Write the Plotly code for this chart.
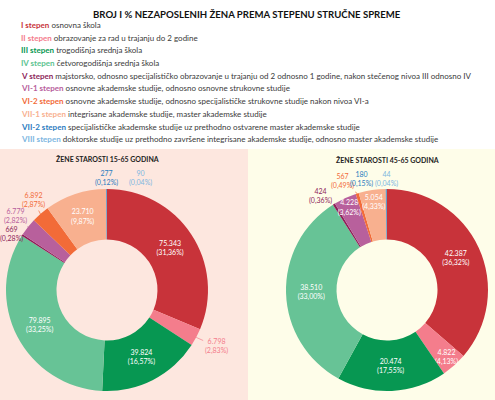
import math
import plotly.graph_objects as go

# Podaci
stepeni = ["I", "II", "III", "IV", "V", "VI-1", "VI-2", "VII-1", "VII-2", "VIII"]
opisi = [
    "osnovna škola",
    "obrazovanje za rad u trajanju do 2 godine",
    "trogodišnja srednja škola",
    "četvorogodišnja srednja škola",
    "majstorsko, odnosno specijalističko obrazovanje u trajanju od 2 odnosno 1 godine, nakon stečenog nivoa III odnosno IV",
    "osnovne akademske studije, odnosno osnovne strukovne studije",
    "osnovne akademske studije, odnosno specijalističke strukovne studije nakon nivoa VI-a",
    "integrisane akademske studije, master akademske studije",
    "specijalističke akademske studije uz prethodno ostvarene master akademske studije",
    "doktorske studije uz prethodno završene integrisane akademske studije, odnosno master akademske studije",
]
zene_15_65 = [75343, 6798, 39824, 79895, 669, 6779, 6892, 23710, 277, 90]
zene_45_65 = [42387, 4822, 20474, 38510, 424, 4228, 567, 5054, 180, 44]

boje = ["#c8333a", "#f47d8c", "#079752", "#67c396", "#8e1f5a",
        "#b8609c", "#f26b38", "#f8b08f", "#2b7cc0", "#7db6df"]
boje_legende = ["#c8333a", "#f47d8c", "#079752", "#5cc38f", "#8e1f5a",
                "#b8609c", "#f26b38", "#f8b08f", "#2b7cc0", "#7db6df"]

# spoljne oznake: indeks stepena -> pomak teksta (px) od ivice kruga, da li ima liniju
spolja_15_65 = {1: (20, 9, True), 4: (-11, -1, True), 5: (-12, -11, True),
                6: (-7, -14, True), 8: (-13, -11, False), 9: (20, -11, False)}
spolja_45_65 = {4: (-13, -8, True), 6: (-15, -12, True),
                8: (-11, -10, False), 9: (13, -10, False)}

FONT = "Lato"
W, H = 495, 400
R = 101          # poluprecnik kruga u px
CY = 290         # centar po y (px od vrha)
VEL_OZNAKA = 7


def fmt_broj(v):
    return f"{v:,}".replace(",", ".")


def fmt_proc(v, ukupno):
    return f"{100 * v / ukupno:.2f}".replace(".", ",") + "%"


def krug(vrednosti, spolja, cx):
    pozicije = ["none" if i in spolja else "inside" for i in range(len(vrednosti))]
    return go.Pie(
        labels=stepeni, values=vrednosti, sort=False, direction="clockwise",
        rotation=0, hole=0.5,
        marker=dict(colors=boje, line=dict(width=0)),
        texttemplate="%{value:,}<br>(%{percent:.2%})",
        textposition=pozicije, insidetextorientation="horizontal",
        insidetextfont=dict(color="white", size=VEL_OZNAKA, family=FONT),
        domain=dict(x=[(cx - R) / W, (cx + R) / W], y=[(H - CY - R) / H, (H - CY + R) / H]),
        showlegend=False, hoverinfo="label+value+percent",
    )


def spoljne_oznake(vrednosti, spolja, cx):
    ukupno = sum(vrednosti)
    oznake = []
    kum = 0
    for i, v in enumerate(vrednosti):
        ugao = 2 * math.pi * (kum + v / 2) / ukupno
        kum += v
        if i not in spolja:
            continue
        dx, dy, linija = spolja[i]
        px_x = cx + R * math.sin(ugao)
        px_y = CY - R * math.cos(ugao)
        tekst = f"{fmt_broj(v)}<br>({fmt_proc(v, ukupno)})"
        a = dict(text=tekst, font=dict(size=VEL_OZNAKA, color=boje[i]),
                 xref="paper", yref="paper")
        if linija:
            a.update(x=px_x / W, y=1 - px_y / H, showarrow=True, arrowhead=0,
                     arrowwidth=0.7, arrowcolor=boje[i], ax=dx, ay=dy, standoff=0)
        else:
            a.update(x=(px_x + dx) / W, y=1 - (px_y + dy) / H, showarrow=False)
        oznake.append(a)
    return oznake


fig = go.Figure()
fig.add_trace(krug(zene_15_65, spolja_15_65, 107))
fig.add_trace(krug(zene_45_65, spolja_45_65, 387))

# pozadine panela
fig.add_shape(type="rect", xref="paper", yref="paper", x0=0, x1=248 / W,
              y0=0, y1=(H - 149) / H, fillcolor="#fde7df", line_width=0, layer="below")
fig.add_shape(type="rect", xref="paper", yref="paper", x0=248 / W, x1=1,
              y0=0, y1=(H - 149) / H, fillcolor="#fefde9", line_width=0, layer="below")

anotacije = [
    dict(text="<b>BROJ I % NEZAPOSLENIH ŽENA PREMA STEPENU STRUČNE SPREME</b>",
         x=247 / W, y=1 - 15 / H, xanchor="center", font=dict(size=9.6, color="#111")),
    dict(text="<b>ŽENE STAROSTI 15-65 GODINA</b>", x=107 / W, y=1 - 159 / H,
         xanchor="center", font=dict(size=7, color="#222")),
    dict(text="<b>ŽENE STAROSTI 45-65 GODINA</b>", x=387 / W, y=1 - 160 / H,
         xanchor="center", font=dict(size=7, color="#222")),
]
for i, (s, o) in enumerate(zip(stepeni, opisi)):
    anotacije.append(dict(
        text=f"<b><span style='color:{boje_legende[i]}'>{s} stepen</span></b> {o}",
        x=19 / W, y=1 - (25 + i * 12.7) / H, xanchor="left",
        font=dict(size=8, color="#3a3a3a")))

for a in anotacije:
    a.update(xref="paper", yref="paper", yanchor="middle", showarrow=False)
anotacije += spoljne_oznake(zene_15_65, spolja_15_65, 107)
anotacije += spoljne_oznake(zene_45_65, spolja_45_65, 387)
for a in anotacije:
    a["font"]["family"] = FONT

fig.update_layout(
    width=W, height=H, margin=dict(l=0, r=0, t=0, b=0),
    paper_bgcolor="white", separators=",.",
    uniformtext=dict(minsize=VEL_OZNAKA, mode="show"),
    annotations=anotacije, font=dict(family=FONT),
)

fig.write_html("out.html", config={"displayModeBar": False},
               post_script="document.body.style.margin = '0';")
